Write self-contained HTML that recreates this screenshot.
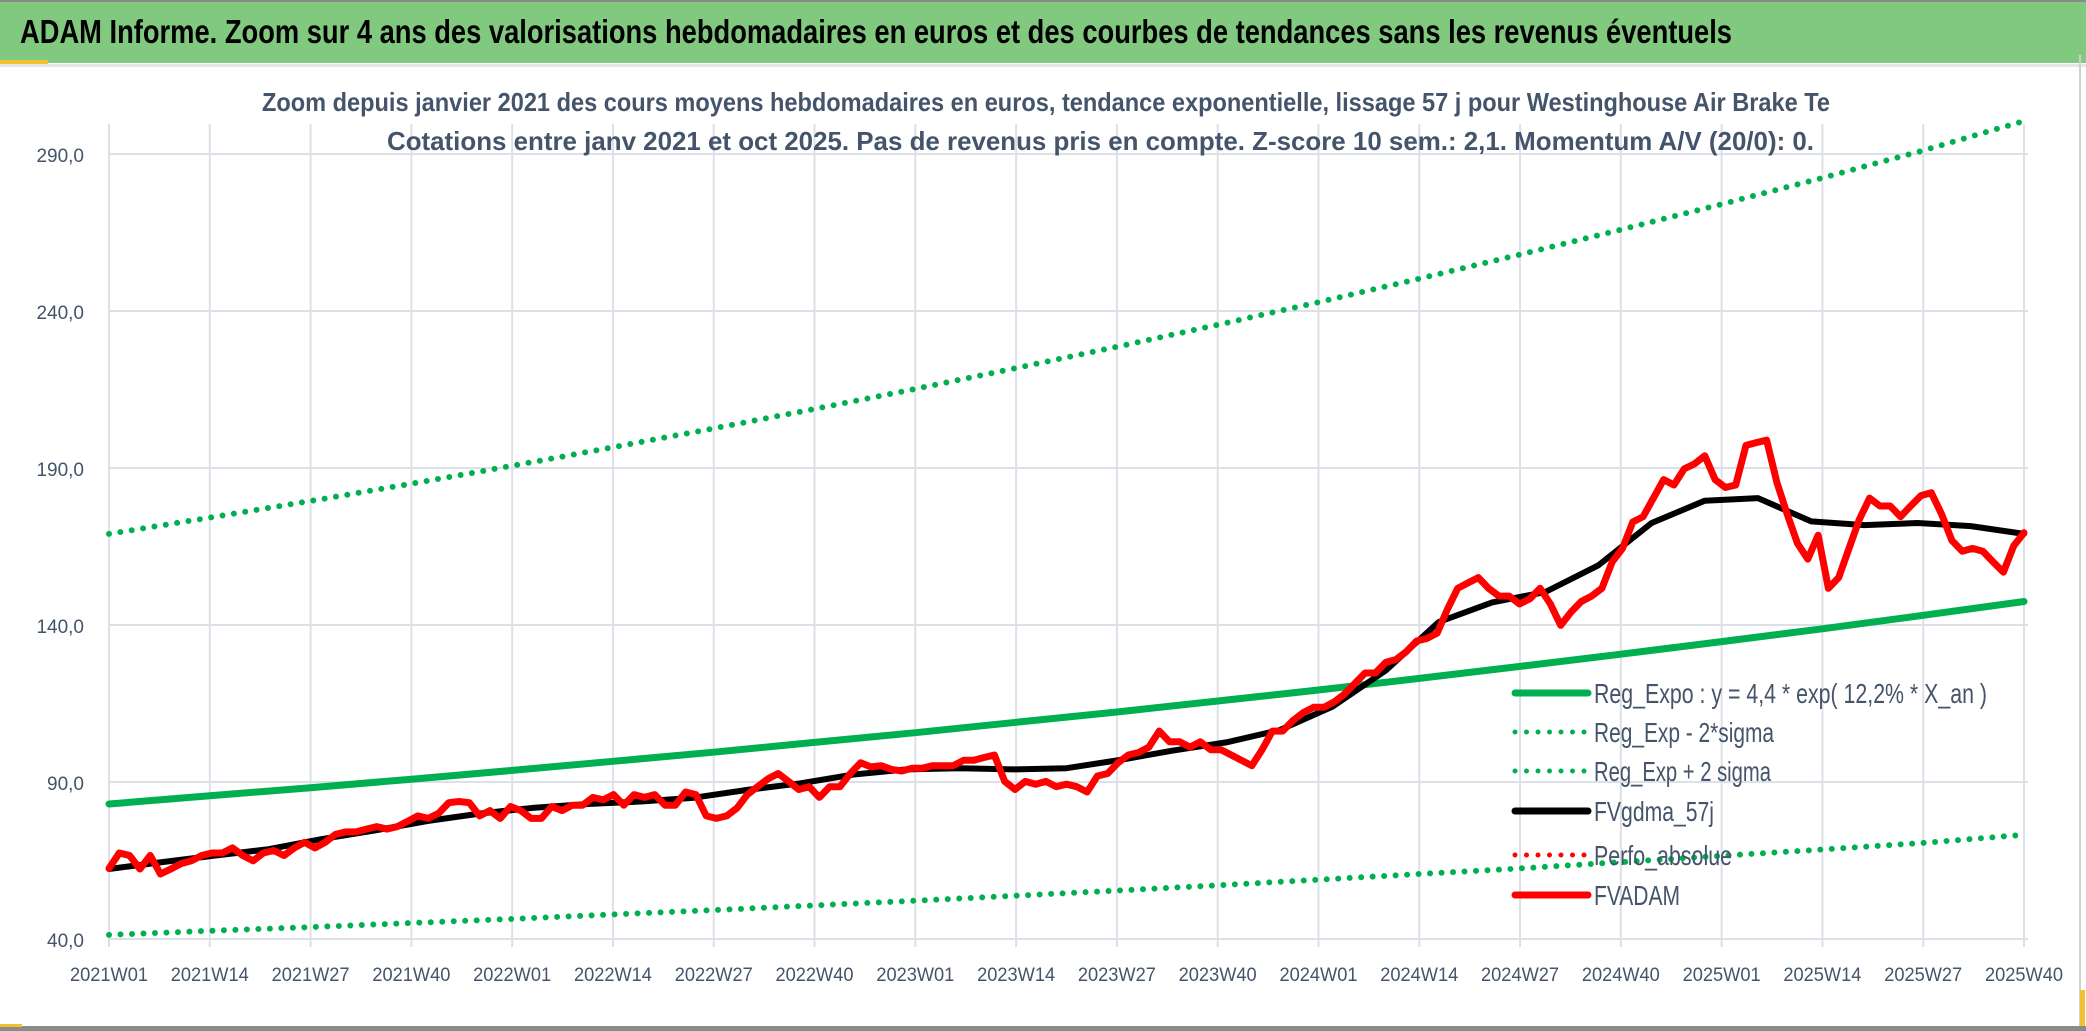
<!DOCTYPE html>
<html><head><meta charset="utf-8"><style>
html,body{margin:0;padding:0;background:#fff;}
svg{display:block;font-family:"Liberation Sans",sans-serif;}
</style></head><body>
<svg id="chart" width="2086" height="1031" viewBox="0 0 2086 1031" xmlns="http://www.w3.org/2000/svg">
<rect x="0" y="0" width="2086" height="1031" fill="#fff"/>
<rect x="0" y="0" width="2086" height="63" fill="#80c97f"/>
<rect x="0" y="0" width="2086" height="2" fill="#8a8a8a"/>
<rect x="0" y="60" width="48" height="5" fill="#f2c12e"/>
<rect x="0" y="64" width="2086" height="3" fill="#e3e6ea"/>
<text x="20" y="43" font-size="33" font-weight="bold" fill="#000" textLength="1712" lengthAdjust="spacingAndGlyphs">ADAM Informe. Zoom sur 4 ans des valorisations hebdomadaires en euros et des courbes de tendances sans les revenus éventuels</text>
<rect x="2079" y="55" width="2" height="976" fill="#d0d0d0"/>
<rect x="2080" y="990" width="5" height="38" fill="#f2c12e"/>
<rect x="0" y="1026" width="2086" height="5" fill="#8a8a8a"/>
<rect x="0" y="1024" width="22" height="3" fill="#f2c12e"/>
<g id="grid"></g>
<text x="262" y="111" font-size="26" font-weight="bold" fill="#44546a" textLength="1568" lengthAdjust="spacingAndGlyphs">Zoom depuis janvier 2021 des cours moyens hebdomadaires en euros, tendance exponentielle, lissage 57 j pour Westinghouse Air Brake Te</text>
<text x="387" y="150" font-size="26" font-weight="bold" fill="#44546a" textLength="1427" lengthAdjust="spacingAndGlyphs">Cotations entre janv 2021 et oct 2025. Pas de revenus pris en compte. Z-score 10 sem.: 2,1. Momentum A/V (20/0): 0.</text>
<g id="series"></g>
<g id="legend"></g>
</svg>
<script>
const xLabels = ["2021W01","2021W14","2021W27","2021W40","2022W01","2022W14","2022W27","2022W40","2023W01","2023W14","2023W27","2023W40","2024W01","2024W14","2024W27","2024W40","2025W01","2025W14","2025W27","2025W40"];
const yTicks = [40,90,140,190,240,290];
const regExpo = [83,85.6,88.2,90.9,93.7,96.6,99.5,102.6,105.7,109.0,112.3,115.8,119.3,123.0,126.8,130.7,134.7,138.8,143.1,147.5];
const regMinus = [41.3,42.6,43.8,45.1,46.4,47.8,49.2,50.7,52.2,53.8,55.4,57.1,58.9,60.7,62.5,64.5,66.5,68.5,70.6,73.2];
const regPlus = [169,174.2,179.5,185.0,190.7,196.6,202.6,208.8,215.2,221.8,228.6,235.6,242.8,250.3,258.0,265.9,274.0,282.4,291.1,300.5];
const fvgdma = [62.3,64.5,66.6,68.6,71.8,74.6,77.6,80,81.8,83,83.8,85,87.5,89.6,92.4,94,94.4,94,94.4,97,100,102.6,106.5,114,125.5,141,147.2,150.5,159,172.5,179.6,180.4,173,171.8,172.5,171.5,169];
const fvadam = [62.5,67.4,66.6,62.3,66.6,60.7,62.3,64,64.9,66.6,67.4,67.4,69,66.6,64.9,67.4,68.2,66.6,69,70.8,69,70.8,73.3,74.1,74.1,75,75.8,75,75.8,77.5,79.2,78.4,80,83.4,83.8,83.4,79.2,80.9,78.4,82.2,80.9,78.4,78.4,82.2,80.9,82.6,82.6,85.1,84.3,86,82.6,86,85.1,86,82.6,82.6,86.8,86,79.2,78.4,79.2,81.7,86,88.5,91,92.7,90.2,87.6,88.5,85.1,88.5,88.5,92.7,96.1,94.8,95.2,94,93.5,94.4,94.4,95.2,95.2,95.2,96.9,96.9,97.8,98.6,90.2,87.6,90.2,89.3,90.2,88.5,89.3,88.5,86.8,91.9,92.7,96.1,98.6,99.4,101.1,106.2,102.8,102.8,101.1,102.8,100.3,100.3,98.6,96.9,95.2,100.3,106.2,106.2,109.6,112.1,113.8,113.8,115.5,118,121.4,124.7,124.7,128.1,129,131.5,134.9,135.7,137.4,145,151.7,153.4,155.1,151.7,149.2,149.2,146.7,148.3,151.7,146.7,139.9,144.1,147.5,149.2,151.7,160.1,164.4,172.8,174.5,180.4,186.3,184.6,189.7,191.3,193.9,186.3,183.8,184.6,197.2,198.1,198.9,185.4,175.3,166,161,168.6,151.7,155.1,164.4,173.6,180.4,177.9,177.9,174.5,177.9,181.2,182.1,175.3,166.9,163.5,164.4,163.5,160.1,156.8,165.2,169.4];

const NS = "http://www.w3.org/2000/svg";
const X0 = 109, X1 = 2024, Y40 = 939, PX_PER_UNIT = 3.14;
function yScale(v){ return Y40 - (v - 40) * PX_PER_UNIT; }
function xFrac(f){ return X0 + f * (X1 - X0); }
function mk(tag, attrs, parent){ const e = document.createElementNS(NS, tag); for (const k in attrs) e.setAttribute(k, attrs[k]); parent.appendChild(e); return e; }
const grid = document.getElementById('grid');
const ser = document.getElementById('series');
const leg = document.getElementById('legend');

yTicks.forEach(function(t){
  const y = yScale(t);
  const l = mk('line', {x1: X0, x2: X1 + 4, y1: y, y2: y, stroke: '#dde1e7', 'stroke-width': 2}, grid);
  
  
  const tx = mk('text', {x: 84, y: y + 8, 'font-size': 19, fill: '#44546a', 'text-anchor': 'end'}, grid);
  tx.textContent = t.toFixed(1).replace('.', ',');
  
  
});
xLabels.forEach(function(lab, i){
  const x = xFrac(i / (xLabels.length - 1));
  const l = mk('line', {x1: x, x2: x, y1: yScale(290) - 30, y2: Y40 + 8, stroke: '#dde1e7', 'stroke-width': 2}, grid);
  
  
  const tx = mk('text', {x: x, y: 981, 'font-size': 19, fill: '#44546a', 'text-anchor': 'middle', textLength: 78, lengthAdjust: 'spacingAndGlyphs'}, grid);
  tx.textContent = lab;
  
  
});

function pts(arr){ return arr.map(function(v, i){ return xFrac(i / (arr.length - 1)).toFixed(1) + ',' + yScale(v).toFixed(1); }).join(' '); }
function line(arr, color, w, dotted, name){
  const p = mk('polyline', {points: pts(arr), fill: 'none', stroke: color, 'stroke-width': w, 'stroke-linejoin': 'round', 'stroke-linecap': 'round'}, ser);
  if (dotted) p.setAttribute('stroke-dasharray', '0 11.5');
  
  
}
line(regPlus, '#00b050', 6, true, 'reg-exp-plus-2sigma-line');
line(regMinus, '#00b050', 6, true, 'reg-exp-minus-2sigma-line');
line(regExpo, '#00b050', 7, false, 'reg-expo-line');
line(fvgdma, '#000000', 6, false, 'fvgdma-57j-line');
line(fvadam, '#ff0000', 7, false, 'fvadam-line');

const legItems = [
  ['Reg_Expo : y = 4,4 * exp( 12,2% *  X_an )', '#00b050', false, 'legend-reg-expo', 393],
  ['Reg_Exp - 2*sigma', '#00b050', true, 'legend-reg-exp-minus', 180],
  ['Reg_Exp + 2 sigma', '#00b050', true, 'legend-reg-exp-plus', 177],
  ['FVgdma_57j', '#000000', false, 'legend-fvgdma', 120],
  ['Perfo_absolue', '#ff0000', true, 'legend-perfo-absolue', 138],
  ['FVADAM', '#ff0000', false, 'legend-fvadam', 86]
];
const legY = [693, 732, 771, 811, 855, 895];
legItems.forEach(function(it, i){
  const g = mk('g', {}, leg);
  
  
  const l = mk('line', {x1: 1515, x2: 1588, y1: legY[i], y2: legY[i], stroke: it[1], 'stroke-width': it[2] ? 5 : 7, 'stroke-linecap': 'round'}, g);
  if (it[2]) l.setAttribute('stroke-dasharray', '0 11.5');
  const t = mk('text', {x: 1594, y: legY[i] + 10, 'font-size': 28, fill: '#44546a', textLength: it[4], lengthAdjust: 'spacingAndGlyphs'}, g);
  t.textContent = it[0];
});
</script>
</body></html>
